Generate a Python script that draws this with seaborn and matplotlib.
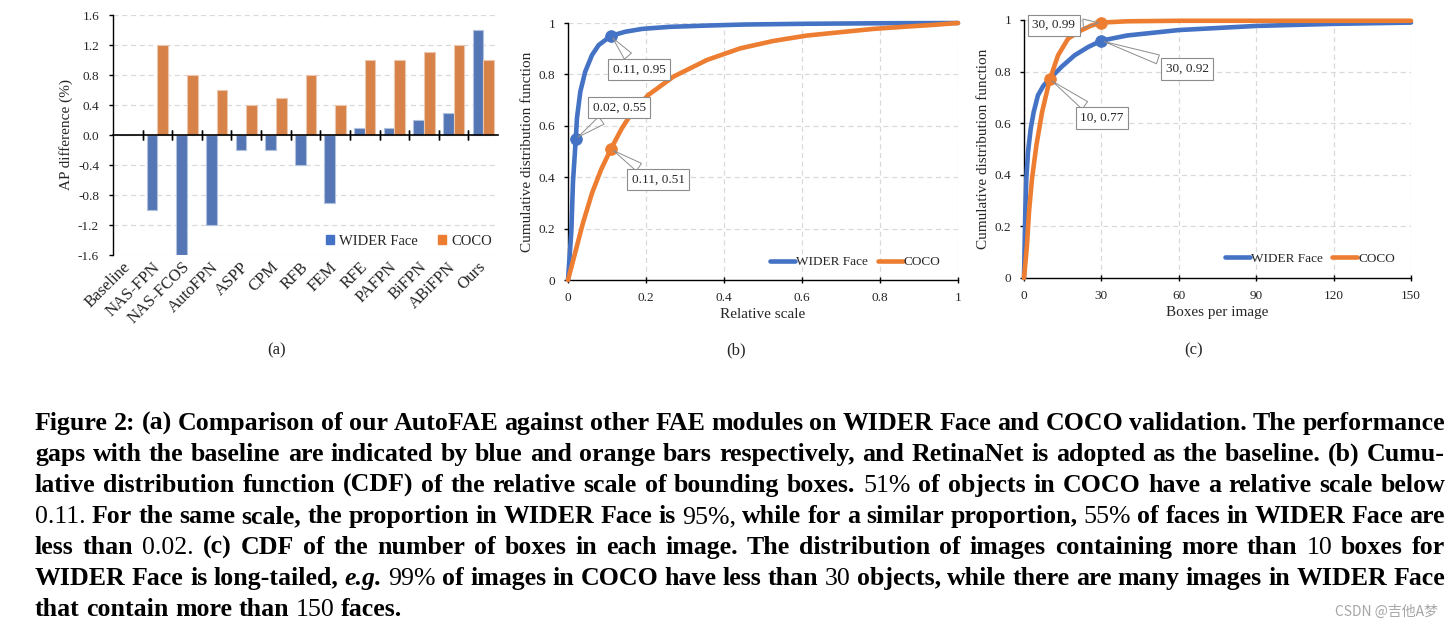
import numpy as np
import pandas as pd
import matplotlib
matplotlib.use('Agg')
import matplotlib.pyplot as plt
import seaborn as sns
from matplotlib.ticker import MultipleLocator, FormatStrFormatter
from matplotlib.patches import Patch
from matplotlib.lines import Line2D

# ============================================================
# DATA
# ============================================================

modules = ['Baseline', 'NAS-FPN', 'NAS-FCOS', 'AutoFPN', 'ASPP', 'CPM', 'RFB',
           'FEM', 'RFE', 'PAFPN', 'BiFPN', 'ABiFPN', 'Ours']
wider_ap = [0.0, -1.0, -1.6, -1.2, -0.2, -0.2, -0.4, -0.9, 0.1, 0.1, 0.2, 0.3, 1.4]
coco_ap = [0.0, 1.2, 0.8, 0.6, 0.4, 0.5, 0.8, 0.4, 1.0, 1.0, 1.1, 1.2, 1.0]

# (b) CDF of relative scale
scale_wider_x = [0, 0.004, 0.0085, 0.0128, 0.02, 0.023, 0.0316, 0.044, 0.0615,
                 0.0786, 0.11, 0.147, 0.19, 0.26, 0.356, 0.45, 0.61, 0.8, 1.0]
scale_wider_y = [0, 0.09, 0.188, 0.383, 0.55, 0.63, 0.733, 0.81, 0.875,
                 0.914, 0.95, 0.966, 0.977, 0.985, 0.99, 0.994, 0.997, 0.999, 1.0]
scale_coco_x = [0, 0.019, 0.038, 0.062, 0.085, 0.11, 0.138, 0.168, 0.206, 0.27,
                0.356, 0.441, 0.526, 0.612, 0.697, 0.783, 0.868, 0.94, 1.0]
scale_coco_y = [0, 0.11, 0.22, 0.34, 0.43, 0.51, 0.59, 0.66, 0.72, 0.791,
                0.856, 0.901, 0.93, 0.951, 0.964, 0.977, 0.986, 0.993, 1.0]
scale_marks = [(0.02, 0.55, 'WIDER Face'), (0.11, 0.95, 'WIDER Face'), (0.11, 0.51, 'COCO')]
scale_label_pos = [(0.131, 0.67), (0.182, 0.82), (0.231, 0.39)]

# (c) CDF of boxes per image
boxes_wider_x = [0, 0.5, 0.9, 1.55, 2.6, 3.75, 5.4, 7.5, 10, 14.5, 19.6, 24.8,
                 30, 40, 60, 90, 120, 150]
boxes_wider_y = [0, 0.256, 0.385, 0.488, 0.579, 0.643, 0.708, 0.745, 0.772,
                 0.818, 0.863, 0.895, 0.92, 0.94, 0.961, 0.977, 0.985, 0.99]
boxes_coco_x = [0, 1.16, 1.94, 3.1, 4.8, 7.0, 10, 13.2, 17.1, 22.2, 26, 30, 40,
                60, 150]
boxes_coco_y = [0, 0.127, 0.256, 0.385, 0.514, 0.643, 0.77, 0.863, 0.928, 0.96,
                0.978, 0.99, 0.995, 0.997, 0.997]
boxes_marks = [(30, 0.99, 'COCO'), (30, 0.92, 'WIDER Face'), (10, 0.77, 'COCO')]
boxes_label_pos = [(11.6, 0.98), (63.2, 0.81), (30.2, 0.62)]

caption_lines = [
    "Figure 2: (a) Comparison of our AutoFAE against other FAE modules on WIDER Face and COCO validation. The performance",
    "gaps with the baseline are indicated by blue and orange bars respectively, and RetinaNet is adopted as the baseline. (b) Cumu-",
    "lative distribution function (CDF) of the relative scale of bounding boxes. 51% of objects in COCO have a relative scale below",
    "0.11. For the same scale, the proportion in WIDER Face is 95%, while for a similar proportion, 55% of faces in WIDER Face are",
    "less than 0.02. (c) CDF of the number of boxes in each image. The distribution of images containing more than 10 boxes for",
    "WIDER Face is long-tailed, e.g. 99% of images in COCO have less than 30 objects, while there are many images in WIDER Face",
    "that contain more than 150 faces.",
]
regular_words = {'51%', '0.11.', '95%,', '55%', '0.02.', '10', '99%', '30', '150'}
italic_words = {'e.g.'}

# ============================================================
# STYLE
# ============================================================

sns.set_theme(style='white')
plt.rcParams['font.family'] = ['Liberation Serif', 'DejaVu Serif']
plt.rcParams['axes.unicode_minus'] = False

BLUE = '#4472C4'
ORANGE = '#ED7D31'
GRID = '#d9d9d9'
colors = {'WIDER Face': BLUE, 'COCO': ORANGE}

W, H = 1455, 629
fig = plt.figure(figsize=(W / 100, H / 100), dpi=100)


def px_axes(l, t, r, b):
    return fig.add_axes([l / W, 1 - b / H, (r - l) / W, (b - t) / H])


def style_axes(ax):
    for s in ['top', 'right']:
        ax.spines[s].set_visible(False)
    for s in ['left', 'bottom']:
        ax.spines[s].set_color('black')
        ax.spines[s].set_linewidth(1.0)


# ============================================================
# (a) AP DIFFERENCE BARS
# ============================================================

ax1 = px_axes(113, 15, 498, 255)

df_a = pd.DataFrame({
    'module': modules * 2,
    'ap': wider_ap + coco_ap,
    'set': ['WIDER Face'] * len(modules) + ['COCO'] * len(modules),
})

sns.barplot(
    data=df_a, x='module', y='ap', hue='set',
    palette=colors, width=0.72, errorbar=None,
    linewidth=0.8, ax=ax1, zorder=3
)
for p in ax1.patches:
    fc = p.get_facecolor()
    p.set_edgecolor((fc[0] + (1 - fc[0]) * 0.55, fc[1] + (1 - fc[1]) * 0.55,
                     fc[2] + (1 - fc[2]) * 0.55))

ax1.set_ylim(-1.6, 1.6)
ax1.set_xlim(-0.5, len(modules) - 0.5)
ax1.yaxis.set_major_locator(MultipleLocator(0.4))
ax1.yaxis.set_major_formatter(FormatStrFormatter('%.1f'))
ax1.grid(axis='y', color=GRID, linestyle=(0, (4, 3)), linewidth=0.9, zorder=0)
ax1.set_axisbelow(True)
style_axes(ax1)
ax1.spines['bottom'].set_visible(False)

ax1.tick_params(axis='y', left=True, length=3, width=1, color='black',
                direction='out', pad=7, labelsize=9.5)
ax1.tick_params(axis='x', bottom=False, length=0, pad=7, labelsize=12)
ax1.set_xticks(range(len(modules)))
ax1.set_xticklabels(modules, rotation=45, ha='right', va='center',
                    rotation_mode='anchor')
ax1.set_xlabel('')
ax1.set_ylabel('AP difference (%)', fontsize=11)
ax1.yaxis.set_label_coords(-0.105, 0.5)

# zero line with category-boundary ticks
sec = ax1.secondary_xaxis(0.5)
sec.set_xticks(np.arange(0.5, len(modules) - 1, 1.0))
sec.tick_params(axis='x', which='both', direction='inout', length=7, width=1,
                color='black', labelbottom=False, labeltop=False,
                top=True, bottom=True)
for s in ['top', 'bottom']:
    sec.spines[s].set_color('black')
    sec.spines[s].set_linewidth(1.2)
sec.set_zorder(5)

ax1.legend(
    handles=[Patch(color=BLUE, label='WIDER Face'), Patch(color=ORANGE, label='COCO')],
    loc='center left', bbox_to_anchor=(0.553, 0.058), ncol=2, frameon=False,
    fontsize=10.5, handlelength=0.55, handleheight=0.55, handletextpad=0.35,
    columnspacing=1.4, borderpad=0, borderaxespad=0
)

# ============================================================
# CDF PANELS
# ============================================================


def cdf_panel(ax, wx, wy, cx, cy, marks, label_pos, xmax, xstep, xlabel):
    sns.lineplot(x=wx, y=wy, color=BLUE, lw=3.3, ax=ax, sort=False,
                 estimator=None, clip_on=False, zorder=3)
    sns.lineplot(x=cx, y=cy, color=ORANGE, lw=3.3, ax=ax, sort=False,
                 estimator=None, clip_on=False, zorder=3)
    for line in ax.get_lines():
        line.set_solid_joinstyle('round')
        line.set_solid_capstyle('round')
    ax.set_xlim(0, xmax)
    ax.set_ylim(0, 1)
    ax.xaxis.set_major_locator(MultipleLocator(xstep))
    ax.yaxis.set_major_locator(MultipleLocator(0.2))
    ax.xaxis.set_major_formatter(FormatStrFormatter('%g'))
    ax.yaxis.set_major_formatter(FormatStrFormatter('%g'))
    ax.grid(True, color=GRID, linestyle=(0, (4, 3)), linewidth=0.9, zorder=0)
    ax.set_axisbelow(True)
    style_axes(ax)
    ax.tick_params(axis='y', left=True, length=3, width=1, color='black',
                   direction='out', pad=6, labelsize=9.5)
    ax.tick_params(axis='x', bottom=True, length=5, width=1, color='black',
                   direction='inout', pad=6, labelsize=9.5)
    ax.set_xlabel(xlabel, fontsize=11)
    ax.set_ylabel('Cumulative distribution function', fontsize=11)
    ax.xaxis.set_label_coords(0.5, -0.11)
    ax.yaxis.set_label_coords(-0.087, 0.5)

    for (mx, my, name), (tx, ty) in zip(marks, label_pos):
        sns.scatterplot(x=[mx], y=[my], color=colors[name], s=70,
                        edgecolor=colors[name], ax=ax, zorder=4,
                        clip_on=False, legend=False)
        ax.annotate(
            f'{mx:g}, {my:g}', xy=(mx, my), xytext=(tx, ty),
            ha='center', va='center', fontsize=9.5, zorder=6,
            bbox=dict(boxstyle='square,pad=0.35', fc='white', ec='#8c8c8c', lw=0.8),
            arrowprops=dict(arrowstyle='wedge,tail_width=0.7,shrink_factor=0.5',
                            fc='none', ec='#8c8c8c', lw=0.7, shrinkB=2)
        )

    ax.legend(
        handles=[Line2D([], [], color=BLUE, lw=3.3, label='WIDER Face'),
                 Line2D([], [], color=ORANGE, lw=3.3, label='COCO')],
        loc='center left', ncol=2, frameon=False, fontsize=9.5,
        handlelength=1.9, handletextpad=0.1, columnspacing=0.7,
        borderpad=0, borderaxespad=0
    )


ax2 = px_axes(568, 23, 958, 280)
cdf_panel(ax2, scale_wider_x, scale_wider_y, scale_coco_x, scale_coco_y,
          scale_marks, scale_label_pos, 1, 0.2, 'Relative scale')
ax2.get_legend().set_bbox_to_anchor((0.518, 0.07), transform=ax2.transAxes)

ax3 = px_axes(1024, 20, 1411, 278)
cdf_panel(ax3, boxes_wider_x, boxes_wider_y, boxes_coco_x, boxes_coco_y,
          boxes_marks, boxes_label_pos, 150, 30, 'Boxes per image')
ax3.yaxis.set_label_coords(-0.088, 0.5)
ax3.get_legend().set_bbox_to_anchor((0.519, 0.074), transform=ax3.transAxes)

# sub-figure labels
for lbl, x in [('(a)', 277), ('(b)', 736), ('(c)', 1194)]:
    fig.text(x / W, 1 - 350 / H, lbl, ha='center', va='center', fontsize=12)

# ============================================================
# CAPTION (justified, word by word)
# ============================================================

CAP_LEFT, CAP_RIGHT = 35, 1445
CAP_BASE0, CAP_STEP = 430, 31
renderer = fig.canvas.get_renderer()


def make_words(line, size):
    out = []
    for w in line.split(' '):
        t = fig.text(0, 0, w, fontsize=size, va='baseline', ha='left',
                     fontweight='normal' if w in regular_words else 'bold',
                     fontstyle='italic' if w in italic_words else 'normal',
                     color='black')
        out.append(t)
    return out


# fit font size so the tightest line fits with normal spacing
base_size = 17.5
probe = fig.text(0, 0, 'a b', fontsize=base_size, fontweight='bold')
probe2 = fig.text(0, 0, 'ab', fontsize=base_size, fontweight='bold')
space_w = probe.get_window_extent(renderer).width - probe2.get_window_extent(renderer).width
probe.remove()
probe2.remove()

scale = 10.0
for line in caption_lines[:-1]:
    ws = make_words(line, base_size)
    total = sum(t.get_window_extent(renderer).width for t in ws)
    need = total + space_w * (len(ws) - 1)
    scale = min(scale, (CAP_RIGHT - CAP_LEFT) / need)
    for t in ws:
        t.remove()
cap_size = base_size * scale

for i, line in enumerate(caption_lines):
    ws = make_words(line, cap_size)
    widths = [t.get_window_extent(renderer).width for t in ws]
    if i < len(caption_lines) - 1:
        gap = (CAP_RIGHT - CAP_LEFT - sum(widths)) / (len(ws) - 1)
    else:
        gap = space_w * scale
    x = CAP_LEFT
    y = 1 - (CAP_BASE0 + i * CAP_STEP) / H
    for t, w in zip(ws, widths):
        t.set_position((x / W, y))
        x += w + gap

fig.text(1438 / W, 1 - 612 / H, 'CSDN @吉他A梦', ha='right', va='center',
         color='#a6a6a6', fontsize=10, family=['Noto Sans CJK SC', 'DejaVu Sans'])

fig.savefig('out.png', dpi=100)
